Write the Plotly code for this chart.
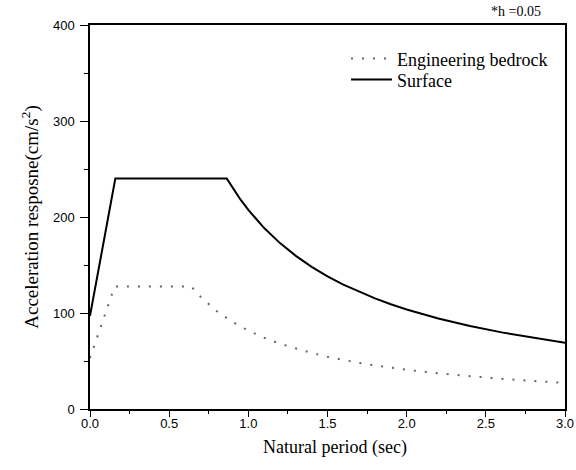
import plotly.graph_objects as go

# Surface spectrum (natural period in sec, acceleration in cm/s^2)
surface_period = [0.0, 0.16, 0.864, 0.9, 0.95, 1.0, 1.1, 1.2, 1.3, 1.4, 1.5, 1.6, 1.7,
                  1.8, 1.9, 2.0, 2.2, 2.4, 2.6, 2.8, 3.0]
surface_accel = [97, 240, 240, 230.4, 218.3, 207.4, 188.5, 172.8, 159.5, 148.1, 138.2,
                 129.6, 122.0, 115.2, 109.1, 103.7, 94.3, 86.4, 79.8, 74.1, 69.1]

# Engineering bedrock spectrum
bedrock_period = [0.0, 0.155, 0.64, 0.7, 0.8, 0.9, 1.0, 1.1, 1.2, 1.3, 1.4, 1.5, 1.6,
                  1.7, 1.8, 1.9, 2.0, 2.2, 2.4, 2.6, 2.8, 3.0]
bedrock_accel = [53, 127.5, 127.5, 116.6, 102.0, 90.7, 81.6, 74.2, 68.0, 62.8, 58.3,
                 54.4, 51.0, 48.0, 45.3, 42.9, 40.8, 37.1, 34.0, 31.4, 29.1, 27.2]

x_ticks = [0.0, 0.5, 1.0, 1.5, 2.0, 2.5, 3.0]
y_ticks = [0, 100, 200, 300, 400]

serif = "Liberation Serif, Times New Roman, serif"
sans = "Liberation Sans, Arial, sans-serif"

fig = go.Figure()
fig.add_trace(go.Scatter(
    x=bedrock_period, y=bedrock_accel, mode="lines", name="Engineering bedrock",
    line=dict(color="#666666", width=2, dash="2px,9px"), legend="legend",
))
fig.add_trace(go.Scatter(
    x=surface_period, y=surface_accel, mode="lines", name="Surface",
    line=dict(color="black", width=2), legend="legend2",
))

axis_common = dict(
    showline=True, linecolor="black", linewidth=1.5, mirror=True, automargin=False,
    showgrid=False, zeroline=False, ticks="outside", tickwidth=1.2,
    tickcolor="black", tickfont=dict(family=sans, size=13, color="black"),
)

fig.update_xaxes(
    range=[0, 3], tickvals=x_ticks, ticktext=[f"{v:.1f}" for v in x_ticks],
    ticklen=6, ticklabelstandoff=-4,
    minor=dict(dtick=0.25, ticks="outside", ticklen=3, tickcolor="black", tickwidth=1.2),
    **axis_common,
)
fig.update_yaxes(
    range=[0, 400], tickvals=y_ticks, ticklen=8, ticklabelstandoff=3,
    minor=dict(dtick=50, ticks="outside", ticklen=4, tickcolor="black", tickwidth=1.2),
    title=dict(text="Acceleration resposne(cm/s<sup>2</sup>)",
               font=dict(family=serif, size=19, color="black"), standoff=9),
    **axis_common,
)

# x-axis title (placed as text under the axis)
fig.add_annotation(
    text="Natural period (sec)", xref="paper", yref="paper", x=0.516, y=-0.099,
    xanchor="center", yanchor="middle", showarrow=False,
    font=dict(family=serif, size=18, color="black"),
)

fig.add_annotation(
    text="*h =0.05", xref="paper", yref="paper", x=0.954, y=1.036,
    xanchor="right", yanchor="middle", showarrow=False,
    font=dict(family=serif, size=14, color="black"),
)

legend_common = dict(xanchor="left", yanchor="middle", bgcolor="rgba(0,0,0,0)",
                     itemwidth=41, font=dict(family=serif, size=18, color="black"))

fig.update_layout(
    width=576, height=470,
    margin=dict(l=90, r=11, t=25, b=61),
    plot_bgcolor="white", paper_bgcolor="white",
    showlegend=True,
    legend=dict(x=0.539, y=0.912, **legend_common),
    legend2=dict(x=0.539, y=0.857, **legend_common),
)

fig.write_html(
    "out.html",
    config={"displayModeBar": False},
    post_script="document.body.style.margin='0';document.body.style.overflow='hidden';",
)
